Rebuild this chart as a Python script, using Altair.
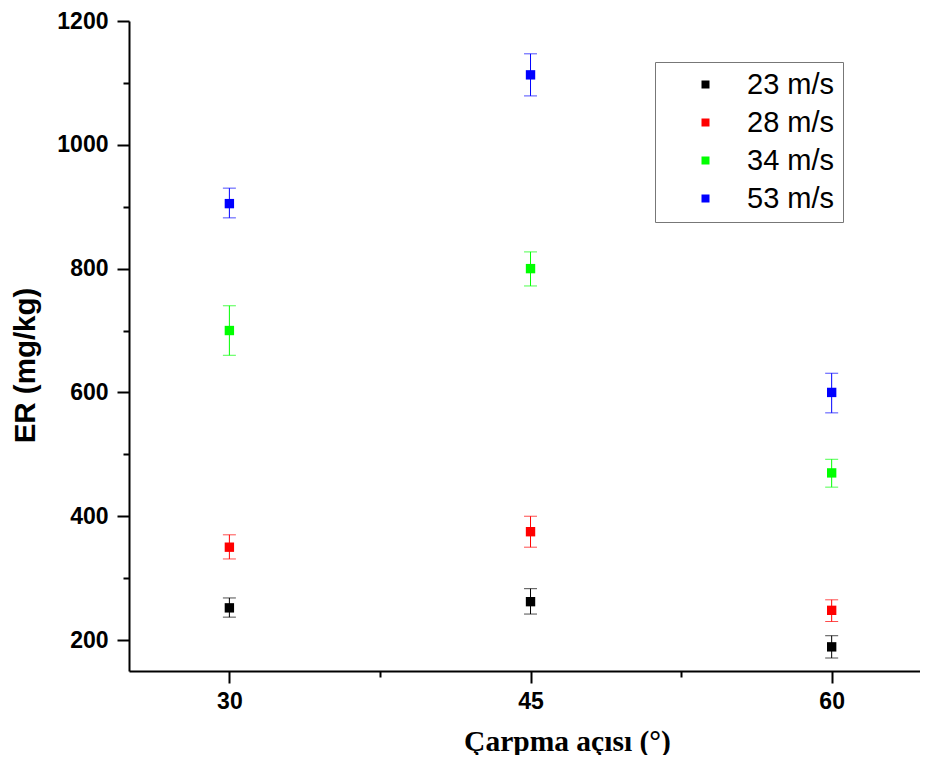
import altair as alt
import pandas as pd

angles = [30, 45, 60]
series = ["23 m/s", "28 m/s", "34 m/s", "53 m/s"]
colors = ["#000000", "#ff0000", "#00ff00", "#0000ff"]

mean_23 = [252, 262, 189]
low_23 = [237, 242, 171]
high_23 = [268, 283, 207]

mean_28 = [350, 375, 248]
low_28 = [331, 350, 230]
high_28 = [370, 400, 265]

mean_34 = [700, 800, 470]
low_34 = [660, 772, 447]
high_34 = [740, 827, 492]

mean_53 = [905, 1113, 600]
low_53 = [882, 1079, 567]
high_53 = [930, 1147, 631]

y_ticks = [200, 300, 400, 500, 600, 700, 800, 900, 1000, 1100, 1200]
x_ticks = [30, 37.5, 45, 52.5, 60]

means = [mean_23, mean_28, mean_34, mean_53]
lows = [low_23, low_28, low_34, low_53]
highs = [high_23, high_28, high_34, high_53]

rows = []
for s, m, lo, hi in zip(series, means, lows, highs):
    for a, mv, lv, hv in zip(angles, m, lo, hi):
        rows.append({"angle": a, "speed": s, "er": mv, "lo": lv, "hi": hv})
df = pd.DataFrame(rows)

xscale = alt.Scale(domain=[25, 64.4], nice=False, zero=False)
yscale = alt.Scale(domain=[150, 1200], nice=False, zero=False)
cscale = alt.Scale(domain=series, range=colors)

x_axis = alt.Axis(
    values=x_ticks,
    labelExpr="datum.value % 15 === 0 ? datum.label : ''",
    tickSize={"condition": {"test": "datum.value % 15 === 0", "value": 12}, "value": 6},
    title="Çarpma açısı (°)",
    titleFont="Liberation Serif",
    titleFontSize=29.5,
    titleFontWeight="bold",
    titleX=438,
    titleY=79,
    titleAlign="center",
    titleBaseline="alphabetic",
    labelPadding=7,
    grid=False,
)
y_axis = alt.Axis(
    values=y_ticks,
    labelExpr="datum.value % 200 === 0 ? datum.label : ''",
    tickSize={"condition": {"test": "datum.value % 200 === 0", "value": 12}, "value": 6},
    title="ER (mg/kg)",
    titleFont="Liberation Sans",
    titleFontSize=29.5,
    titleFontWeight="bold",
    titleAngle=270,
    titleX=-95,
    titleY=344,
    titleAlign="center",
    titleBaseline="alphabetic",
    labelPadding=9,
    grid=False,
    format="d",
)

bars = alt.Chart(df).mark_errorbar(
    ticks={"size": 13, "thickness": 1}, thickness=1
).encode(
    x=alt.X("angle:Q", scale=xscale, axis=x_axis),
    y=alt.Y("lo:Q", scale=yscale, axis=y_axis),
    y2="hi:Q",
    color=alt.Color("speed:N", scale=cscale, legend=None),
)

points = alt.Chart(df).mark_square(size=88, opacity=1).encode(
    x=alt.X("angle:Q", scale=xscale),
    y=alt.Y("er:Q", scale=yscale),
    color=alt.Color(
        "speed:N",
        scale=cscale,
        legend=alt.Legend(
            title=None,
            orient="none",
            legendX=526,
            legendY=41,
            strokeColor="#777777",
            padding=8,
            symbolOffset=28,
            symbolSize=64,
            symbolType="square",
            symbolStrokeWidth=0,
            labelFont="Liberation Sans",
            labelFontSize=29,
            labelOffset=27,
            rowPadding=8,
            labelColor="#000000",
        ),
    ),
)

chart = alt.layer(bars, points).resolve_legend(color="independent").properties(
    width=791,
    height=650,
    autosize=alt.AutoSizeParams(type="none"),
    padding={"left": 121, "top": 13, "right": 0, "bottom": 84},
).configure_view(stroke=None).configure_axis(
    domainColor="#000000",
    domainWidth=2,
    tickColor="#000000",
    tickWidth=2,
    labelFont="Liberation Sans",
    labelFontSize=23,
    labelFontWeight="bold",
    labelColor="#000000",
    titleColor="#000000",
)

chart.save("out.html", embed_options={"renderer": "svg", "actions": False})
